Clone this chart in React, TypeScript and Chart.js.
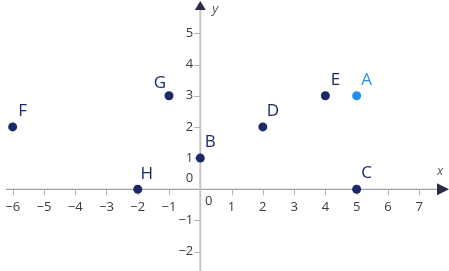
import React, { useEffect, useRef } from "react";
import { Chart, registerables } from "chart.js";

Chart.register(...registerables);

const pointNames = ["A", "B", "C", "D", "E", "F", "G", "H"];
const pointX = [5, 0, 5, 2, 4, -6, -1, -2];
const pointY = [3, 1, 0, 2, 3, 2, 3, 0];
const highlighted = ["A"];
const xTicks = [-6, -5, -4, -3, -2, -1, 1, 2, 3, 4, 5, 6, 7];
const yTicks = [-2, -1, 1, 2, 3, 4, 5];
const xRange = [-6.405, 7.953];
const yRange = [-2.62, 6.07];

const NAVY = "#1b2a66";
const BLUE = "#2190f5";
const FONT = "'Open Sans', sans-serif";

const minus = (v: number) => (v < 0 ? "\u2212" + Math.abs(v) : String(v));

const axesPlugin = {
  id: "axesPlugin",
  beforeDatasetsDraw(chart: any) {
    const ctx = chart.ctx;
    const xs = chart.scales.x;
    const ys = chart.scales.y;
    const ox = xs.getPixelForValue(0);
    const oy = ys.getPixelForValue(0);
    const left = chart.chartArea.left;
    const right = chart.chartArea.right;
    const top = chart.chartArea.top;
    const bottom = chart.chartArea.bottom;
    ctx.save();
    // x axis line
    ctx.strokeStyle = "#8c8c8c";
    ctx.lineWidth = 1;
    ctx.beginPath();
    ctx.moveTo(left + 6, oy);
    ctx.lineTo(right - 10, oy);
    ctx.stroke();
    // y axis line
    ctx.strokeStyle = "#c4c4c4";
    ctx.lineWidth = 2;
    ctx.beginPath();
    ctx.moveTo(ox, top + 8);
    ctx.lineTo(ox, bottom);
    ctx.stroke();
    // ticks
    ctx.strokeStyle = "#b0b0b0";
    ctx.lineWidth = 1;
    xTicks.forEach((t) => {
      const px = Math.round(xs.getPixelForValue(t)) + 0.5;
      ctx.beginPath();
      ctx.moveTo(px, oy);
      ctx.lineTo(px, oy + 6);
      ctx.stroke();
    });
    yTicks.forEach((t) => {
      const py = Math.round(ys.getPixelForValue(t)) + 0.5;
      ctx.beginPath();
      ctx.moveTo(ox - 6, py);
      ctx.lineTo(ox, py);
      ctx.stroke();
    });
    // arrows
    ctx.fillStyle = "#2a2d48";
    ctx.beginPath();
    ctx.moveTo(right, oy);
    ctx.lineTo(right - 12, oy - 6);
    ctx.lineTo(right - 12, oy + 6);
    ctx.closePath();
    ctx.fill();
    ctx.beginPath();
    ctx.moveTo(ox, top + 1);
    ctx.lineTo(ox - 5.5, top + 10);
    ctx.lineTo(ox + 5.5, top + 10);
    ctx.closePath();
    ctx.fill();
    // tick labels
    ctx.fillStyle = "#3a3a3a";
    ctx.font = "13px " + FONT;
    ctx.textAlign = "center";
    ctx.textBaseline = "middle";
    xTicks.forEach((t) => {
      ctx.fillText(minus(t), xs.getPixelForValue(t), oy + 18);
    });
    ctx.textAlign = "right";
    yTicks.forEach((t) => {
      ctx.fillText(minus(t), ox - 7, ys.getPixelForValue(t));
    });
    ctx.fillText("0", ox - 7, oy - 11);
    ctx.textAlign = "center";
    ctx.fillText("0", ox + 8.5, oy + 12);
    // axis names
    ctx.font = "italic 13px " + FONT;
    ctx.fillStyle = "#555";
    ctx.fillText("x", right - 9, oy - 18);
    ctx.fillText("y", ox + 15, top + 9);
    ctx.restore();
  },
  afterDatasetsDraw(chart: any) {
    const ctx = chart.ctx;
    const xs = chart.scales.x;
    const ys = chart.scales.y;
    ctx.save();
    ctx.font = "17px " + FONT;
    ctx.textAlign = "center";
    ctx.textBaseline = "middle";
    pointNames.forEach((name, i) => {
      const px = xs.getPixelForValue(pointX[i]);
      const py = ys.getPixelForValue(pointY[i]);
      ctx.fillStyle = highlighted.includes(name) ? BLUE : NAVY;
      let dx = 10;
      let dy = -16;
      if (name === "G") {
        dx = -9;
        dy = -13;
      }
      if (name === "H") {
        dx = 9;
        dy = -15;
      }
      ctx.fillText(name, px + dx, py + dy);
    });
    ctx.restore();
  },
};

export default function App() {
  const ref = useRef<HTMLCanvasElement>(null);
  useEffect(() => {
    if (!ref.current) return;
    const idx = pointNames.map((_, i) => i);
    const chart = new Chart(ref.current, {
      type: "scatter",
      data: {
        datasets: [
          {
            data: idx
              .filter((i) => !highlighted.includes(pointNames[i]))
              .map((i) => ({ x: pointX[i], y: pointY[i] })),
            backgroundColor: NAVY,
            borderColor: NAVY,
            pointRadius: 4.5,
            borderWidth: 0,
          },
          {
            data: idx
              .filter((i) => highlighted.includes(pointNames[i]))
              .map((i) => ({ x: pointX[i], y: pointY[i] })),
            backgroundColor: BLUE,
            borderColor: BLUE,
            pointRadius: 4.5,
            borderWidth: 0,
          },
        ],
      },
      options: {
        animation: false,
        responsive: false,
        maintainAspectRatio: false,
        layout: { padding: 0, autoPadding: false },
        plugins: {
          legend: { display: false },
          tooltip: { enabled: false },
        },
        scales: {
          x: {
            type: "linear",
            min: xRange[0],
            max: xRange[1],
            display: false,
          },
          y: {
            type: "linear",
            min: yRange[0],
            max: yRange[1],
            display: false,
          },
        },
      },
      plugins: [axesPlugin],
    });
    return () => chart.destroy();
  }, []);
  return (
    <div style={{ position: "fixed", left: 0, top: 0, width: 449, height: 271, background: "#fff" }}>
      <canvas ref={ref} width={449} height={271} style={{ width: 449, height: 271, display: "block" }} />
    </div>
  );
}
